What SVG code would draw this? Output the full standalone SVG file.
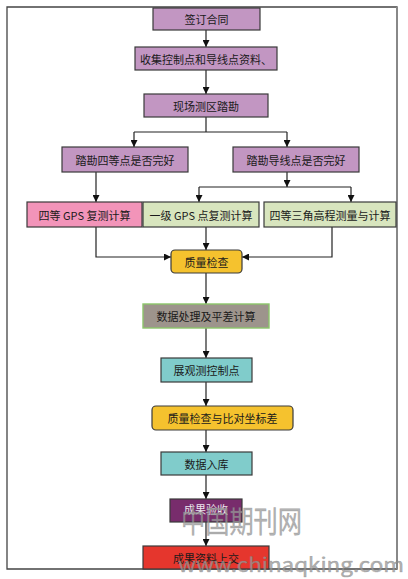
<svg xmlns="http://www.w3.org/2000/svg" width="408" height="579" viewBox="0 0 408 579">
<style>
.t{font-family:"Noto Sans CJK SC","Noto Sans",sans-serif;font-size:11px;fill:#1a1a1a;text-anchor:middle;dominant-baseline:central}
.b{stroke:#3a3a3a;stroke-width:1.2}
.c{fill:none;stroke:#222;stroke-width:1.2}
.wm{font-family:"Noto Sans CJK SC","DejaVu Sans",sans-serif;fill:#9a9a9a;fill-opacity:0.75;stroke:#777;stroke-opacity:0.5;stroke-width:0.5}
</style>
<defs>
<marker id="a" viewBox="0 0 10 10" refX="10" refY="5" markerWidth="7" markerHeight="7" markerUnits="userSpaceOnUse" orient="auto">
<path d="M0,0L10,5L0,10z" fill="#111"/>
</marker>
</defs>
<rect width="408" height="579" fill="#fff"/>
<path d="M7,7H397V569H7Z" fill="none" stroke="#444" stroke-width="1.3"/>
<line x1="397" y1="7" x2="397" y2="569" stroke="#888" stroke-width="2"/>

<g id="connectors">
<path class="c" d="M206,30V47" marker-end="url(#a)"/>
<path class="c" d="M206,70V94" marker-end="url(#a)"/>
<path class="c" d="M206,117V132"/>
<path class="c" d="M134,132H287"/>
<path class="c" d="M134,132V147" marker-end="url(#a)"/>
<path class="c" d="M287,132V147" marker-end="url(#a)"/>
<path class="c" d="M96,172V202" marker-end="url(#a)"/>
<path class="c" d="M287,172V187" marker-end="url(#a)"/>
<path class="c" d="M199,187H351"/>
<path class="c" d="M199,187V202" marker-end="url(#a)"/>
<path class="c" d="M351,187V202" marker-end="url(#a)"/>
<path class="c" d="M96,227V257H171" marker-end="url(#a)"/>
<path class="c" d="M206,227V250" marker-end="url(#a)"/>
<path class="c" d="M332,227V257H242" marker-end="url(#a)"/>
<path class="c" d="M206,273V304" marker-end="url(#a)"/>
<path class="c" d="M206,328V358" marker-end="url(#a)"/>
<path class="c" d="M206,382V406" marker-end="url(#a)"/>
<path class="c" d="M206,430V452" marker-end="url(#a)"/>
<path class="c" d="M206,475V499" marker-end="url(#a)"/>
<path class="c" d="M206,522V546" marker-end="url(#a)"/>
</g>

<g id="n1"><rect class="b" x="153" y="8" width="107" height="22" fill="#C296C2"/><text class="t" x="206.5" y="19">签订合同</text></g>
<g id="n2"><rect class="b" x="135" y="47" width="142" height="23" fill="#C296C2"/><text class="t" x="206" y="58.5">收集控制点和导线点资料、</text></g>
<g id="n3"><rect class="b" x="144" y="94" width="124" height="23" fill="#C296C2"/><text class="t" x="206" y="105.5">现场测区踏勘</text></g>
<g id="n4"><rect class="b" x="62" y="147" width="126" height="25" fill="#C296C2"/><text class="t" x="125" y="159.5">踏勘四等点是否完好</text></g>
<g id="n5"><rect class="b" x="233" y="147" width="126" height="25" fill="#C296C2"/><text class="t" x="296" y="159.5">踏勘导线点是否完好</text></g>
<g id="n6"><rect class="b" x="27" y="202" width="115" height="25" fill="#F294B9"/><text class="t" x="84.5" y="214.5">四等 GPS 复测计算</text></g>
<g id="n7"><rect class="b" x="143" y="202" width="116" height="25" fill="#D8E5BE"/><text class="t" x="201" y="214.5">一级 GPS 点复测计算</text></g>
<g id="n8"><rect class="b" x="264" y="202" width="132" height="25" fill="#D8E5BE"/><text class="t" x="330" y="214.5">四等三角高程测量与计算</text></g>
<g id="n9"><rect class="b" x="171" y="250" width="71" height="23" rx="4" fill="#F5C22E"/><text class="t" x="206.5" y="261.5">质量检查</text></g>
<g id="n10"><rect x="143" y="304" width="126" height="24" fill="#9D948C" stroke="#8CC56A" stroke-width="1.4"/><text class="t" x="206" y="316">数据处理及平差计算</text></g>
<g id="n11"><rect class="b" x="161" y="358" width="91" height="24" fill="#80CCCB"/><text class="t" x="206.5" y="370">展观测控制点</text></g>
<g id="n12"><rect class="b" x="152" y="406" width="141" height="24" rx="4" fill="#F5C22E"/><text class="t" x="222.5" y="418">质量检查与比对坐标差</text></g>
<g id="n13"><rect class="b" x="161" y="452" width="91" height="23" fill="#80CCCB"/><text class="t" x="206.5" y="463.5">数据入库</text></g>
<g id="n14"><rect class="b" x="170" y="499" width="72" height="23" fill="#782C6C"/><text class="t" x="206" y="509" style="fill:#ece4ec">成果验收</text></g>
<g id="n15"><rect class="b" x="143" y="546" width="126" height="23" fill="#E5362D"/><text class="t" x="206" y="557.5">成果资料上交</text></g>

<text class="wm" x="181" y="532" font-size="30" textLength="121" lengthAdjust="spacingAndGlyphs">中国期刊网</text>
<text class="wm" x="178" y="572" font-size="19" font-family="DejaVu Sans Mono" textLength="226" lengthAdjust="spacingAndGlyphs">www.chinaqking.com</text>
</svg>
